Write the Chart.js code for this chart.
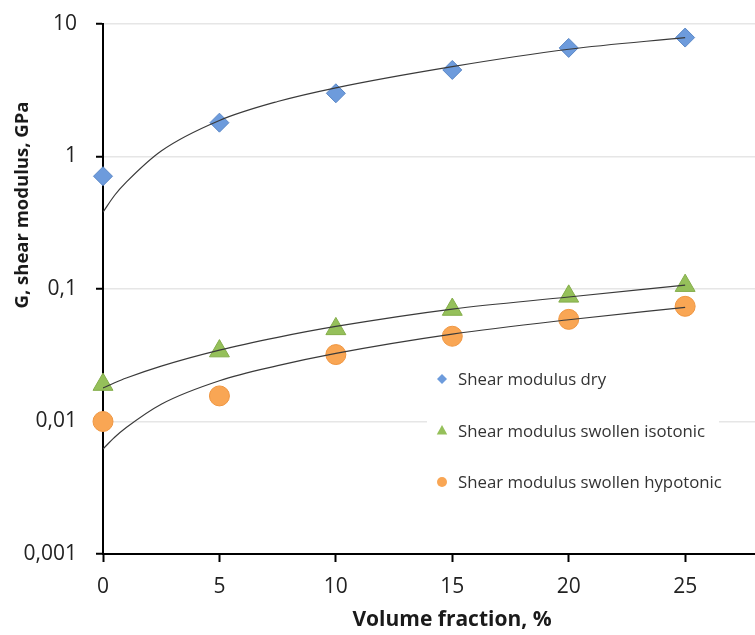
<!DOCTYPE html>
<html>
<head>
<meta charset="utf-8">
<script src="https://cdn.jsdelivr.net/npm/chart.js@4.4.1/dist/chart.umd.min.js"></script>
<style>
  html, body { margin: 0; padding: 0; background: #fff; }
  #wrap { width: 755px; height: 635px; }
</style>
</head>
<body>
<div id="wrap"><canvas id="chart" width="755" height="635"></canvas></div>
<script>
const volumeFraction = [0, 5, 10, 15, 20, 25];
const shearDry = [0.71, 1.8, 3.0, 4.5, 6.6, 7.9];
const shearIsotonic = [0.019, 0.034, 0.05, 0.07, 0.088, 0.106];
const shearHypotonic = [0.01, 0.0156, 0.032, 0.044, 0.059, 0.074];

// Trend curves, sampled along the drawn fit lines
const trendX = [0, 0.5, 1, 2.5, 5, 7.5, 10, 15, 20, 25];
const trendDry = [0.38, 0.51, 0.64, 1.1, 1.87, 2.6, 3.3, 4.77, 6.45, 7.9];
const trendIsotonic = [0.0179, 0.0196, 0.0213, 0.0262, 0.0346, 0.0432, 0.0522, 0.0706, 0.087, 0.107];
const trendHypotonic = [0.0062, 0.0076, 0.009, 0.0135, 0.0203, 0.0264, 0.0327, 0.0457, 0.0586, 0.0726];

const xTicks = [0, 5, 10, 15, 20, 25];
const yTicks = [0.001, 0.01, 0.1, 1, 10];
const yTickLabels = ['0,001', '0,01', '0,1', '1', '10'];

const seriesLabels = ['Shear modulus dry', 'Shear modulus swollen isotonic', 'Shear modulus swollen hypotonic'];
const xTitle = 'Volume fraction, %';
const yTitle = 'G, shear modulus, GPa';

const FONT = '"Open Sans", "DejaVu Sans", sans-serif';

function toPoints(xs, ys) {
  return xs.map((x, i) => ({ x: x, y: ys[i] }));
}

const markerStyles = [
  { shape: 'diamond', fill: '#6d9bdc', stroke: '#5a87c6' },
  { shape: 'triangle', fill: '#95c05a', stroke: '#84ad4a' },
  { shape: 'circle', fill: '#f9a654', stroke: '#ef9641' }
];

function drawMarker(ctx, shape, x, y, r) {
  ctx.beginPath();
  if (shape === 'diamond') {
    ctx.moveTo(x, y - r); ctx.lineTo(x + r, y); ctx.lineTo(x, y + r); ctx.lineTo(x - r, y);
  } else if (shape === 'triangle') {
    ctx.moveTo(x, y - r); ctx.lineTo(x + r * 0.87, y + r * 0.6); ctx.lineTo(x - r * 0.87, y + r * 0.6);
  } else {
    ctx.arc(x, y, r, 0, Math.PI * 2);
  }
  ctx.closePath();
  ctx.fill();
}

// drop the label padding chart.js reserves, the plot box is fixed
function fixBox(axis, size) {
  if (axis.isHorizontal()) axis.height = size; else axis.width = size;
  axis.paddingTop = 0;
  axis.paddingBottom = 0;
  axis.paddingLeft = 0;
  axis.paddingRight = 0;
}

// axis titles + boxed legend inside the plot
const overlay = {
  id: 'overlay',
  afterDatasetsDraw(chart) {
    const ctx = chart.ctx;
    ctx.save();
    ctx.fillStyle = '#ffffff';
    ctx.fillRect(427, 356, 292, 150);

    ctx.font = '16.8px ' + FONT;
    ctx.textAlign = 'left';
    ctx.textBaseline = 'middle';
    const rows = [379, 431, 482];
    seriesLabels.forEach((label, i) => {
      const m = markerStyles[i];
      ctx.fillStyle = m.fill;
      drawMarker(ctx, m.shape, 442, rows[i], m.shape === 'triangle' ? 6 : 5);
      ctx.fillStyle = '#333333';
      ctx.fillText(label, 458, rows[i] + 1);
    });

    ctx.fillStyle = '#1a1a1a';
    ctx.textAlign = 'center';
    ctx.font = 'bold 21px ' + FONT;
    ctx.fillText(xTitle, 452, 620);
    ctx.font = 'bold 18.5px ' + FONT;
    ctx.translate(23, 205);
    ctx.rotate(-Math.PI / 2);
    ctx.fillText(yTitle, 0, 0);
    ctx.restore();
  }
};

function scatterSet(label, values, idx, style, radius) {
  const m = markerStyles[idx];
  return {
    type: 'scatter',
    label: label,
    data: toPoints(volumeFraction, values),
    pointStyle: style,
    pointRadius: radius,
    backgroundColor: m.fill,
    borderColor: m.stroke,
    borderWidth: 1,
    clip: false,
    order: 2
  };
}

function trendSet(values) {
  return {
    type: 'line',
    data: toPoints(trendX, values),
    borderColor: '#3a3a3a',
    borderWidth: 1.2,
    pointRadius: 0,
    fill: false,
    cubicInterpolationMode: 'monotone',
    order: 1
  };
}

new Chart(document.getElementById('chart'), {
  type: 'scatter',
  data: {
    datasets: [
      scatterSet(seriesLabels[0], shearDry, 0, 'rectRot', 9.5),
      scatterSet(seriesLabels[1], shearIsotonic, 1, 'triangle', 11.5),
      scatterSet(seriesLabels[2], shearHypotonic, 2, 'circle', 10),
      trendSet(trendDry),
      trendSet(trendIsotonic),
      trendSet(trendHypotonic)
    ]
  },
  options: {
    responsive: false,
    animation: false,
    events: [],
    layout: { autoPadding: false, padding: { top: 24, right: 0, left: 0, bottom: 0 } },
    plugins: {
      legend: { display: false },
      tooltip: { enabled: false }
    },
    scales: {
      x: {
        type: 'linear',
        min: 0,
        max: 28,
        afterBuildTicks: (axis) => { axis.ticks = xTicks.map(v => ({ value: v })); },
        afterFit: (axis) => fixBox(axis, 81),
        grid: { drawOnChartArea: false, drawTicks: true, tickLength: 8, tickColor: '#000', tickWidth: 2 },
        border: { display: true, color: '#000', width: 2 },
        ticks: {
          font: { family: FONT, size: 21 },
          color: '#222',
          padding: 12,
          maxRotation: 0,
          autoSkip: false
        }
      },
      y: {
        type: 'logarithmic',
        min: 0.001,
        max: 10,
        afterBuildTicks: (axis) => { axis.ticks = yTicks.map(v => ({ value: v })); },
        afterFit: (axis) => fixBox(axis, 103),
        grid: {
          color: (c) => (c.tick && c.tick.value === yTicks[0]) ? 'rgba(0,0,0,0)' : '#e6e6e6',
          lineWidth: 1.5,
          tickLength: 7,
          tickColor: '#000',
          tickWidth: 2
        },
        border: { display: true, color: '#000', width: 2 },
        ticks: {
          font: { family: FONT, size: 21 },
          color: '#222',
          padding: 19,
          autoSkip: false,
          callback: (v) => {
            const i = yTicks.indexOf(v);
            return i >= 0 ? yTickLabels[i] : '';
          }
        }
      }
    }
  },
  plugins: [overlay]
});
</script>
</body>
</html>
